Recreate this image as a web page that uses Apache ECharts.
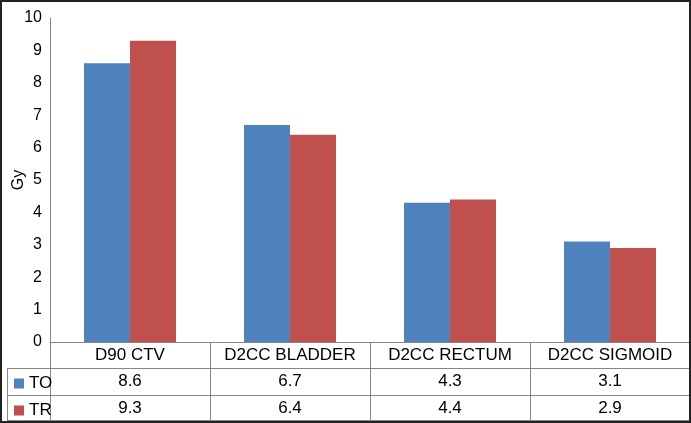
<!DOCTYPE html>
<html><head><meta charset="utf-8">
<script src="https://cdn.jsdelivr.net/npm/echarts@6/dist/echarts.min.js"></script>
<style>html,body{margin:0;padding:0;background:#fff}#c{width:691px;height:423px}</style>
</head><body><div id="c"></div>
<script>
const categories = ['D90 CTV', 'D2CC BLADDER', 'D2CC RECTUM', 'D2CC SIGMOID'];
const seriesNames = ['TO', 'TR'];
const TO = [8.6, 6.7, 4.3, 3.1];
const TR = [9.3, 6.4, 4.4, 2.9];
const yTicks = [0, 10, 1];

const gray = '#868686';
const font = 'Liberation Sans, Arial, sans-serif';
const chart = echarts.init(document.getElementById('c'));
const fmt = v => v.toFixed(1);
const legendText = { fontFamily: font, fontSize: 17, color: '#000' };
chart.setOption({
  animation: false,
  color: ['#4F81BD', '#C0504D'],
  grid: { left: 50, right: 1, top: 18, bottom: 81, containLabel: false, outerBoundsMode: 'none' },
  legend: [
    { left: 9, top: 370, itemWidth: 10, itemHeight: 10, icon: 'rect', data: [seriesNames[0]],
      textStyle: legendText, selectedMode: false },
    { left: 9, top: 397, itemWidth: 10, itemHeight: 10, icon: 'rect', data: [seriesNames[1]],
      textStyle: legendText, selectedMode: false }
  ],
  xAxis: [
    { type: 'category', data: categories, position: 'bottom',
      axisLine: { lineStyle: { color: gray } },
      axisTick: { show: true, length: 78, lineStyle: { color: gray } },
      axisLabel: { fontFamily: font, fontSize: 17, color: '#000', margin: 5, interval: 0 } },
    { type: 'category', data: TO.map(fmt), position: 'bottom', offset: 26,
      axisLine: { lineStyle: { color: gray } }, axisTick: { show: false },
      axisLabel: { fontFamily: font, fontSize: 17, color: '#000', margin: 5, interval: 0 } },
    { type: 'category', data: TR.map(fmt), position: 'bottom', offset: 53,
      axisLine: { lineStyle: { color: gray } }, axisTick: { show: false },
      axisLabel: { fontFamily: font, fontSize: 17, color: '#000', margin: 5, interval: 0 } },
    { type: 'category', data: categories, position: 'bottom', offset: 78,
      axisLine: { lineStyle: { color: gray } }, axisTick: { show: false },
      axisLabel: { show: false } }
  ],
  yAxis: {
    type: 'value', min: yTicks[0], max: yTicks[1], interval: yTicks[2],
    name: 'Gy', nameLocation: 'middle', nameGap: 23, nameRotate: 90, nameMoveOverlap: false,
    nameTextStyle: { fontFamily: font, fontSize: 16, color: '#000' },
    axisLine: { show: true, lineStyle: { color: gray } }, axisTick: { show: false },
    splitLine: { show: false },
    axisLabel: { fontFamily: font, fontSize: 16, color: '#000', margin: 8 }
  },
  series: [
    { name: seriesNames[0], type: 'bar', data: TO, barGap: '0%', barCategoryGap: '42.5%', xAxisIndex: 0 },
    { name: seriesNames[1], type: 'bar', data: TR, barGap: '0%', barCategoryGap: '42.5%', xAxisIndex: 0 }
  ],
  graphic: [
    { type: 'line', shape: { x1: 7, y1: 368.5, x2: 50, y2: 368.5 }, style: { stroke: gray, lineWidth: 1 } },
    { type: 'line', shape: { x1: 7, y1: 395.5, x2: 50, y2: 395.5 }, style: { stroke: gray, lineWidth: 1 } },
    { type: 'line', shape: { x1: 7, y1: 420.5, x2: 50, y2: 420.5 }, style: { stroke: gray, lineWidth: 1 } },
    { type: 'line', shape: { x1: 7.5, y1: 368, x2: 7.5, y2: 421 }, style: { stroke: gray, lineWidth: 1 } },
    { type: 'rect', shape: { x: 1, y: 1, width: 689, height: 421 }, style: { fill: 'none', stroke: '#222', lineWidth: 2 }, z: 100 }
  ]
});
</script></body></html>
